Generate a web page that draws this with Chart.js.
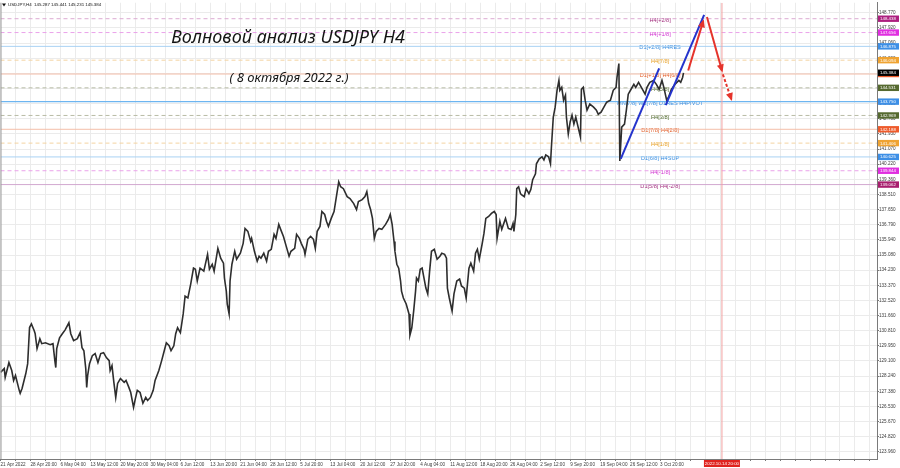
<!DOCTYPE html>
<html>
<head>
<meta charset="utf-8">
<script src="https://cdn.jsdelivr.net/npm/chart.js@4.4.0/dist/chart.umd.min.js"></script>
<style>
  html, body { margin: 0; padding: 0; background: #fff; }
  canvas { display: block; }
</style>
</head>
<body>
<canvas id="chart" width="900" height="468"></canvas>
<script>
// --- данные (H4, один шаг = один бар) ---
const symbolName = 'USDJPY,H4';
const headerOHLC = [145.287, 145.441, 145.231, 145.384];
const lastPrice = 145.384;

const tickLabels = ['21 Apr 2022', '28 Apr 20:00', '6 May 04:00', '13 May 12:00', '20 May 20:00',
  '30 May 04:00', '6 Jun 12:00', '13 Jun 20:00', '21 Jun 04:00', '28 Jun 12:00', '5 Jul 20:00',
  '13 Jul 04:00', '20 Jul 12:00', '27 Jul 20:00', '4 Aug 04:00', '11 Aug 12:00', '18 Aug 20:00',
  '26 Aug 04:00', '2 Sep 12:00', '9 Sep 20:00', '19 Sep 04:00', '26 Sep 12:00', '3 Oct 20:00'];
const barsPerLabel = 32;

const yTicks = [148.770, 147.920, 147.060, 146.200, 145.340, 144.490, 143.630, 142.780, 141.930,
  141.070, 140.220, 139.360, 138.510, 137.650, 136.790, 135.940, 135.080, 134.230, 133.370, 132.520,
  131.660, 130.810, 129.950, 129.100, 128.240, 127.380, 126.530, 125.670, 124.820, 123.960];

// путь цены (номер бара / цена)
const priceBars = [0, 4, 5, 9, 12, 14, 16, 20, 21, 23, 27, 29, 31, 33, 36, 37, 39, 42, 44, 48,
  53, 56, 58, 59, 60, 63, 66, 69, 73, 75, 78, 82, 85, 87, 89, 91, 92, 93, 95, 98,
  101, 104, 107, 110, 113, 116, 117, 119, 121, 123, 125, 128, 132, 134, 137, 139, 142, 144, 146, 149,
  152, 155, 157, 160, 163, 165, 169, 172, 174, 177, 180, 182, 185, 187, 189, 192, 195, 197, 200, 203,
  206, 208, 210, 213, 217, 221, 223, 226, 228, 232, 235, 238, 239, 241, 242, 244, 245, 247, 250, 252,
  256, 259, 261, 264, 267, 268, 271, 274, 276, 278, 281, 284, 286, 289, 292, 294, 297, 299, 302, 305,
  308, 310, 314, 316, 319, 321, 324, 325, 328, 331, 334, 336, 338, 341, 343, 346, 348, 350, 353, 356,
  358, 361, 363, 366, 370, 373, 377, 380, 382, 386, 389, 391, 393, 395, 397, 399, 401, 404, 407, 411,
  414, 416, 418, 420, 421, 423, 425, 427, 428, 430, 433, 436, 437, 439, 441, 443, 444, 446, 448, 450,
  452, 454, 456, 458, 460, 463, 466, 469, 471, 474, 476, 477, 479, 482, 484, 487, 490, 492, 495, 497,
  500, 502, 505, 507, 509, 511, 514, 516, 518, 521, 524, 527, 529, 530, 533, 535, 539, 542, 545, 547,
  548, 550, 551, 553, 555, 556, 559, 561, 564, 566, 568, 571, 572, 575, 578, 580, 582, 585, 587, 588,
  590, 592, 594, 596, 597, 599, 601, 603, 604, 606, 608, 610, 612, 614, 617, 619, 620, 622, 624, 626,
  629, 633, 636, 638, 641, 644, 647, 651, 654, 657, 658, 660, 661, 663, 666, 668, 670, 673, 676, 678,
  681, 684, 688, 690, 693, 697, 700, 703, 706, 708, 711, 713, 716, 720, 724, 726, 728, 729];
const priceValues = [128.45, 128.66, 128.16, 129.00, 128.55, 127.99, 128.27, 127.43, 127.26, 127.54, 128.38, 128.94, 130.98, 131.19, 130.80, 130.63, 129.79, 130.35, 130.07, 130.12,
  130.01, 130.07, 129.11, 128.72, 129.79, 130.40, 130.63, 130.85, 131.25, 130.63, 130.24, 130.35, 130.69, 129.84, 129.67, 128.66, 127.60, 128.27, 128.94, 129.39,
  129.51, 129.00, 129.51, 129.56, 129.28, 129.11, 128.55, 128.83, 127.88, 127.03, 127.82, 128.10, 127.88, 127.99, 127.60, 127.31, 126.47, 126.98, 127.43, 127.31,
  126.70, 127.03, 126.86, 127.03, 127.43, 127.99, 128.55, 129.11, 129.51, 130.12, 129.95, 129.67, 129.95, 130.63, 130.97, 130.69, 131.75, 132.76, 132.65, 133.44,
  134.34, 134.28, 133.61, 134.34, 134.17, 135.12, 134.28, 134.56, 134.17, 135.46, 134.90, 134.62, 133.78, 133.04, 132.31, 131.75, 133.61, 134.56, 135.29, 134.84,
  135.18, 135.74, 136.58, 136.42, 135.85, 136.02, 135.29, 134.73, 135.01, 134.90, 135.18, 134.73, 135.29, 135.40, 136.25, 136.02, 136.81, 136.53, 136.13, 135.57,
  135.01, 135.29, 135.46, 136.25, 136.02, 135.74, 135.40, 135.12, 135.97, 136.13, 135.97, 135.46, 136.42, 136.70, 137.54, 137.37, 136.98, 136.70, 137.15, 137.54,
  138.21, 139.22, 138.94, 138.83, 138.38, 138.27, 137.99, 137.65, 138.10, 138.21, 138.38, 138.66, 137.99, 137.65, 137.15, 136.02, 136.42, 136.58, 136.53, 136.81,
  137.09, 137.37, 136.81, 135.85, 135.29, 134.56, 134.34, 133.61, 133.04, 132.65, 132.31, 131.75, 130.55, 130.97, 131.92, 133.04, 133.78, 133.61, 134.28, 134.34,
  133.78, 133.21, 132.88, 134.17, 135.29, 135.40, 134.84, 135.01, 135.18, 135.12, 134.90, 133.21, 132.65, 131.92, 132.88, 133.61, 133.72, 133.33, 133.21, 132.65,
  134.34, 134.62, 134.17, 135.18, 135.40, 134.84, 135.69, 136.30, 137.15, 137.26, 137.43, 137.54, 137.37, 136.02, 136.98, 136.53, 137.15, 136.58, 136.53, 136.86,
  136.42, 137.37, 138.83, 138.94, 138.55, 138.49, 138.38, 138.83, 138.55, 138.78, 139.34, 139.67, 140.24, 140.52, 140.63, 140.46, 140.74, 140.63, 140.24, 141.19,
  142.88, 143.44, 144.39, 144.95, 144.39, 144.56, 143.83, 144.11, 142.88, 141.92, 142.60, 142.99, 142.48, 142.88, 142.20, 141.75, 144.45, 144.56, 143.83, 143.27,
  143.61, 143.44, 143.27, 143.04, 143.16, 143.44, 143.72, 143.83, 144.39, 144.56, 145.12, 145.90, 140.40, 142.31, 142.48, 143.27, 144.17, 144.45, 144.73, 144.56,
  144.84, 144.56, 144.17, 144.56, 144.84, 144.95, 144.73, 144.45, 144.95, 144.56, 143.83, 144.00, 144.45, 144.73, 144.95, 144.84, 145.12, 145.38];

// уровни Мюррея
const levelPrices = [148.438, 147.656, 146.875, 146.094, 145.312, 144.531, 143.750, 142.969, 142.188, 141.406, 140.625, 139.844, 139.062];
const levelNames = ['H4[+2/8]', 'H4[+1/8]', 'D1[+2/8] H4RES', 'H4[7/8]', 'D1[+1/8] H4[6/8]', 'H4[5/8]',
  'MN[7/8] W1[7/8] D1RES H4PIVOT', 'H4[3/8]', 'D1[7/8] H4[2/8]', 'H4[1/8]', 'D1[6/8] H4SUP', 'H4[-1/8]', 'D1[5/8] H4[-2/8]'];
const levelKinds = ['p2', 'p1', 'blue', 'orange', 'red', 'olive', 'pivot', 'olive', 'red', 'orange', 'blue', 'p1', 'p2d1'];
const levelLabelBar = 704;

// разметка волн
const blueLine1Bars = [662, 703], blueLine1Prices = [140.52, 145.63];
const blueLine2Bars = [710, 751], blueLine2Prices = [143.55, 148.66];
const redUpBars = [734, 750], redUpPrices = [145.51, 148.30];
const redDownBars = [754, 770], redDownPrices = [148.54, 145.51];
const redDashBars = [771, 780], redDashPrices = [145.29, 143.89];

const futureBar = 770;
const futureLabel = '2022.10.14 20:00';

// --- стили ---
const X_MAX = 935.5, Y_MIN = 123.55, Y_MAX = 149.34;
const KIND = {
  p2:    { line: '#dcaad2', text: '#a3307f', tag: '#ad1f7f', dash: [4, 3] },
  p2d1:  { line: '#d2a8d0', text: '#a3307f', tag: '#a81e6e', dash: [] },
  p1:    { line: '#eaa2ea', text: '#d133d1', tag: '#e02ee0', dash: [4, 3] },
  blue:  { line: '#a9d2f4', text: '#3a8ee0', tag: '#3d8fe6', dash: [] },
  pivot: { line: '#6db5f0', text: '#3a8ee0', tag: '#3d8fe6', dash: [], width: 1.4 },
  orange:{ line: '#f4d3a0', text: '#e7a024', tag: '#efa332', dash: [4, 3] },
  red:   { line: '#f4bea9', text: '#e2602c', tag: '#ee5b2c', dash: [] },
  olive: { line: '#b8bca6', text: '#4f6a2c', tag: '#566a30', dash: [4, 3] }
};
const SMALL_FONT = '4.4px "Liberation Sans"';

const pts = (bars, prices) => bars.map((b, i) => ({ x: b, y: prices[i] }));

const datasets = [];
datasets.push({
  data: pts(priceBars, priceValues),
  borderColor: '#2e2e2e', borderWidth: 1.6, pointRadius: 0, tension: 0, order: 1
});
levelPrices.forEach((p, i) => {
  const k = KIND[levelKinds[i]];
  datasets.push({
    data: [{ x: 0, y: p }, { x: X_MAX, y: p }],
    borderColor: k.line, borderWidth: k.width || 1, borderDash: k.dash,
    pointRadius: 0, order: 5
  });
});
datasets.push({
  data: [{ x: futureBar, y: Y_MIN }, { x: futureBar, y: Y_MAX }],
  borderColor: '#f2a0a0', borderWidth: 1, pointRadius: 0, order: 4
});
[[blueLine1Bars, blueLine1Prices], [blueLine2Bars, blueLine2Prices]].forEach(([b, p]) => {
  datasets.push({ data: pts(b, p), borderColor: '#2433cc', borderWidth: 2, pointRadius: 0, order: 0 });
});
[[redUpBars, redUpPrices, []], [redDownBars, redDownPrices, []], [redDashBars, redDashPrices, [3, 2]]].forEach(([b, p, d]) => {
  datasets.push({ data: pts(b, p), borderColor: '#e5332b', borderWidth: 2, borderDash: d,
    pointRadius: 0, order: 0, arrowHead: true });
});

const overlay = {
  id: 'overlay',
  beforeDatasetsDraw(chart) {
    const { ctx, scales: { x, y } } = chart;
    ctx.save();
    ctx.font = '5.6px "Liberation Sans"';
    ctx.textAlign = 'center';
    ctx.textBaseline = 'middle';
    levelPrices.forEach((p, i) => {
      ctx.fillStyle = KIND[levelKinds[i]].text;
      ctx.fillText(levelNames[i], x.getPixelForValue(levelLabelBar), y.getPixelForValue(p) + 1.5);
    });
    ctx.restore();
  },
  afterDatasetsDraw(chart) {
    const { ctx } = chart;
    chart.data.datasets.forEach((ds, i) => {
      if (!ds.arrowHead) return;
      const el = chart.getDatasetMeta(i).data;
      const a = el[el.length - 2], b = el[el.length - 1];
      const ang = Math.atan2(b.y - a.y, b.x - a.x);
      ctx.save();
      ctx.translate(b.x, b.y);
      ctx.rotate(ang);
      ctx.fillStyle = ds.borderColor;
      ctx.beginPath();
      ctx.moveTo(2, 0);
      ctx.lineTo(-6, -3.5);
      ctx.lineTo(-6, 3.5);
      ctx.closePath();
      ctx.fill();
      ctx.restore();
    });
  },
  afterDraw(chart) {
    const { ctx, chartArea, scales: { x, y } } = chart;
    ctx.save();
    // левая рамка
    ctx.strokeStyle = '#9a9a9a';
    ctx.lineWidth = 1;
    ctx.beginPath();
    ctx.moveTo(chartArea.left + 0.5, chartArea.top);
    ctx.lineTo(chartArea.left + 0.5, chartArea.bottom);
    ctx.stroke();

    // ценовые метки справа
    ctx.font = SMALL_FONT;
    ctx.textBaseline = 'middle';
    ctx.textAlign = 'left';
    const tag = (price, color) => {
      const py = y.getPixelForValue(price);
      ctx.fillStyle = color;
      ctx.fillRect(chartArea.right + 1, py - 3.2, 21, 6.4);
      ctx.fillStyle = '#fff';
      ctx.fillText(price.toFixed(3), chartArea.right + 3, py + 0.3);
    };
    levelPrices.forEach((p, i) => tag(p, KIND[levelKinds[i]].tag));
    tag(lastPrice, '#000');

    // метка времени на оси
    const fx = x.getPixelForValue(futureBar);
    ctx.fillStyle = '#e0231f';
    ctx.fillRect(fx - 18, chartArea.bottom + 1, 36, 7);
    ctx.fillStyle = '#fff';
    ctx.textAlign = 'center';
    ctx.fillText(futureLabel, fx, chartArea.bottom + 4.8);

    // заголовок окна
    ctx.fillStyle = '#111';
    ctx.beginPath();
    ctx.moveTo(2, 3.5); ctx.lineTo(6, 3.5); ctx.lineTo(4, 6.5); ctx.closePath();
    ctx.fill();
    ctx.textAlign = 'left';
    ctx.fillText(symbolName + '  ' + headerOHLC.map(v => v.toFixed(3)).join(' '), 8, 5.2);

    // подписи
    ctx.fillStyle = '#141414';
    ctx.textAlign = 'center';
    ctx.font = 'italic 18px "Noto Sans"';
    ctx.fillText('Волновой анализ USDJPY H4', 288, 38);
    ctx.font = 'italic 13px "Noto Sans"';
    ctx.fillText('( 8 октября 2022 г.)', 289, 78);
    ctx.restore();
  }
};

new Chart(document.getElementById('chart'), {
  type: 'line',
  data: { datasets },
  plugins: [overlay],
  options: {
    responsive: false,
    devicePixelRatio: 1,
    animation: false,
    layout: { padding: 0 },
    plugins: { legend: { display: false }, tooltip: { enabled: false } },
    scales: {
      x: {
        type: 'linear', min: 0, max: X_MAX,
        afterFit(s) { s.height = 9; },
        afterBuildTicks(s) {
          const t = [];
          for (let b = 0; b <= X_MAX; b += barsPerLabel / 2) t.push({ value: b });
          s.ticks = t;
        },
        grid: { color: '#ebebeb', tickLength: 2, tickColor: '#777' },
        border: { display: true, color: '#7a7a7a' },
        ticks: {
          autoSkip: false, maxRotation: 0, align: 'start', padding: 0.5,
          color: '#3a3a3a', font: { size: 4.6, family: 'Liberation Sans' },
          callback: v => (v % barsPerLabel === 0 ? (tickLabels[v / barsPerLabel] || '') : '')
        }
      },
      y: {
        type: 'linear', position: 'right', min: Y_MIN, max: Y_MAX,
        afterFit(s) { s.width = 23; },
        afterBuildTicks(s) { s.ticks = yTicks.map(v => ({ value: v })); },
        grid: { color: '#ebebeb', tickLength: 2, tickColor: '#777' },
        border: { display: true, color: '#7a7a7a' },
        ticks: {
          padding: 0, color: '#3a3a3a', font: { size: 4.6, family: 'Liberation Sans' },
          callback: v => v.toFixed(3)
        }
      }
    }
  }
});
</script>
</body>
</html>
